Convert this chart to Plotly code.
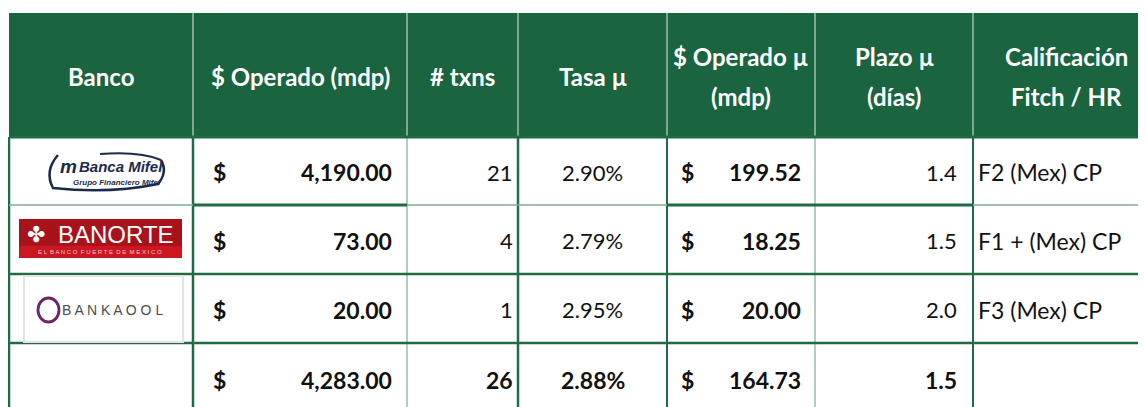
import plotly.graph_objects as go

# ---------------- data ----------------
headers = ["Banco", "$ Operado (mdp)", "# txns", "Tasa µ", "$ Operado µ<br>(mdp)", "Plazo µ<br>(días)", "Calificación<br>Fitch / HR"]
banks = ["Banca Mifel", "Banorte", "Bankaool"]
operado = [4190.00, 73.00, 20.00]
txns = [21, 4, 1]
tasa = [2.90, 2.79, 2.95]
operado_mu = [199.52, 18.25, 20.00]
plazo = [1.4, 1.5, 2.0]
calificacion = ["F2 (Mex) CP", "F1 + (Mex) CP", "F3 (Mex) CP"]
total_operado = 4283.00
total_txns = 26
total_tasa = 2.88
total_operado_mu = 164.73
total_plazo = 1.5

# ---------------- layout constants ----------------
W, H = 1146, 407
OFF = 8  # page body margin
col_edges = [9, 193, 407, 518, 667, 815, 973, 1160]
row_edges = [13, 137, 205, 274, 343, 420]
GREEN = "#1a6440"
LINE = "#1f6b46"
LIGHT = "#7fae95"
FONT = "Lato"
TXT = "#111111"
SANS = "Liberation Sans"

fig = go.Figure()
shapes = []
ann = []

def rect(x0, y0, x1, y1, fill, lc=None, lw=0, layer="below"):
    shapes.append(dict(type="rect", xref="x", yref="y", x0=x0, y0=y0, x1=x1, y1=y1,
                       fillcolor=fill, line=dict(color=lc or fill, width=lw), layer=layer))

def line(x0, y0, x1, y1, color, width):
    shapes.append(dict(type="line", xref="x", yref="y", x0=x0, y0=y0, x1=x1, y1=y1,
                       line=dict(color=color, width=width), layer="above"))

def text(x, y, s, size=20, color=TXT, anchor="center", bold=False, family=FONT, italic=False):
    if bold:
        s = "<b>" + s + "</b>"
    if italic:
        s = "<i>" + s + "</i>"
    ann.append(dict(x=x, y=y, xref="x", yref="y", text=s, showarrow=False,
                    xanchor=anchor, yanchor="middle",
                    font=dict(family=family, size=size, color=color)))

# header
rect(col_edges[0], row_edges[0], col_edges[-1], row_edges[1], GREEN)
for xe in col_edges[1:-1]:
    line(xe, row_edges[0], xe, row_edges[1], "#c9d3ce", 1.2)
hc = (row_edges[0] + row_edges[1]) / 2 + 1
for i, h in enumerate(headers):
    cx = (col_edges[i] + col_edges[i + 1]) / 2
    if i == 6:
        cx = (col_edges[i] + 1146) / 2 + 7
    parts = h.split("<br>")
    if len(parts) == 1:
        text(cx, hc, parts[0], size=24, color="white", bold=True)
    else:
        text(cx, hc - 20, parts[0], size=24, color="white", bold=True)
        text(cx, hc + 20, parts[1], size=24, color="white", bold=True)

# body lines
body_top = row_edges[1]
vert_w = [2.5, 2.5, 1.2, 2.5, 2.0, 1.2, 2.0]
vert_c = [LINE, LINE, LIGHT, LINE, LINE, LIGHT, LINE]
for xe, w, c in zip(col_edges[:-1], vert_w, vert_c):
    line(xe, body_top, xe, H + 5, c, w)
line(col_edges[0], row_edges[1], col_edges[-1], row_edges[1], LINE, 3)
line(col_edges[0], row_edges[2], col_edges[-1], row_edges[2], LIGHT, 1.5)
line(col_edges[1], row_edges[2], col_edges[2], row_edges[2], LINE, 3)
line(col_edges[4], row_edges[2], col_edges[6], row_edges[2], LINE, 3)
line(col_edges[0], row_edges[3], col_edges[-1], row_edges[3], LINE, 2.5)
line(col_edges[0], row_edges[4], col_edges[-1], row_edges[4], LINE, 2.5)

# ---------------- logos ----------------
r1 = (row_edges[1] + row_edges[2]) / 2
r2 = (row_edges[2] + row_edges[3]) / 2
r3 = (row_edges[3] + row_edges[4]) / 2
NAVY = "#1c2a4a"
# Banca Mifel
shapes.append(dict(type="path", xref="x", yref="y",
                   path="M 58 155 Q 44 171 53 188 Q 110 194 158 184 Q 168 172 161 160",
                   line=dict(color=NAVY, width=2.5), layer="above"))
shapes.append(dict(type="path", xref="x", yref="y",
                   path="M 100 154 Q 140 151 161 160",
                   line=dict(color=NAVY, width=2), layer="above"))
text(58, r1 - 5, "m", size=19, color=NAVY, bold=True, anchor="left", family=SANS, italic=True)
text(77, r1 - 5, banks[0], size=15, color=NAVY, bold=True, anchor="left", family=SANS, italic=True)
text(117, r1 + 11, "Grupo Financiero Mifel", size=8, color=NAVY, bold=True, family=SANS, italic=True)
# Banorte
rect(19, 219, 182, 258, "#a8121b", layer="above")
rect(19, 246, 182, 258, "#cc1720", layer="above")
text(116, r2 - 5, banks[1].upper(), size=24, color="white", family=SANS)
text(36, r2 - 5, "✤", size=22, color="white", family="DejaVu Sans")
text(100, 251.5, "E L  B A N C O  F U E R T E  D E  M E X I C O", size=6, color="#f3c9c9", family=SANS)
# Bankaool
rect(24, 276, 183, 342, "white", lc="#e3e3e3", lw=2, layer="above")
shapes.append(dict(type="circle", xref="x", yref="y", x0=38, y0=298, x1=59, y1=322,
                   line=dict(color="#6e2468", width=2.8), fillcolor="rgba(0,0,0,0)", layer="above"))
text(112, r3 + 1, " ".join(banks[2].upper()), size=14, color="#4d4d4d", family=SANS)

# ---------------- body values ----------------
BS = 23   # bold size
RS = 22   # regular size
rows_y = [r1, r2, r3]
for i in range(3):
    y = rows_y[i] + 1
    text(col_edges[1] + 26, y, "$", size=BS, bold=True)
    text(col_edges[2] - 13, y, f"{operado[i]:,.2f}", size=BS, bold=True, anchor="right")
    text(col_edges[3] - 3, y, f"{txns[i]}", size=RS, anchor="right")
    text((col_edges[3] + col_edges[4]) / 2, y, f"{tasa[i]:.2f}%", size=RS)
    text(col_edges[4] + 20, y, "$", size=BS, bold=True)
    text(col_edges[5] - 12, y, f"{operado_mu[i]:,.2f}", size=BS, bold=True, anchor="right")
    text(col_edges[6] - 14, y, f"{plazo[i]:.1f}", size=RS, anchor="right")
    text(col_edges[6] + 3, y, calificacion[i], size=RS + 1, anchor="left")

yt = 380
text(col_edges[1] + 26, yt, "$", size=BS, bold=True)
text(col_edges[2] - 13, yt, f"{total_operado:,.2f}", size=BS, bold=True, anchor="right")
text(col_edges[3] - 3, yt, f"{total_txns}", size=BS, bold=True, anchor="right")
text((col_edges[3] + col_edges[4]) / 2, yt, f"{total_tasa:.2f}%", size=BS, bold=True)
text(col_edges[4] + 20, yt, "$", size=BS, bold=True)
text(col_edges[5] - 12, yt, f"{total_operado_mu:,.2f}", size=BS, bold=True, anchor="right")
text(col_edges[6] - 14, yt, f"{total_plazo:.1f}", size=BS, bold=True, anchor="right")

fig.update_layout(
    width=W - OFF, height=H - OFF, margin=dict(l=0, r=0, t=0, b=0),
    paper_bgcolor="white", plot_bgcolor="white",
    xaxis=dict(range=[OFF, W], visible=False, fixedrange=True),
    yaxis=dict(range=[H, OFF], visible=False, fixedrange=True),
    shapes=shapes, annotations=ann, showlegend=False,
)
fig.write_html("out.html", config={"displayModeBar": False})
